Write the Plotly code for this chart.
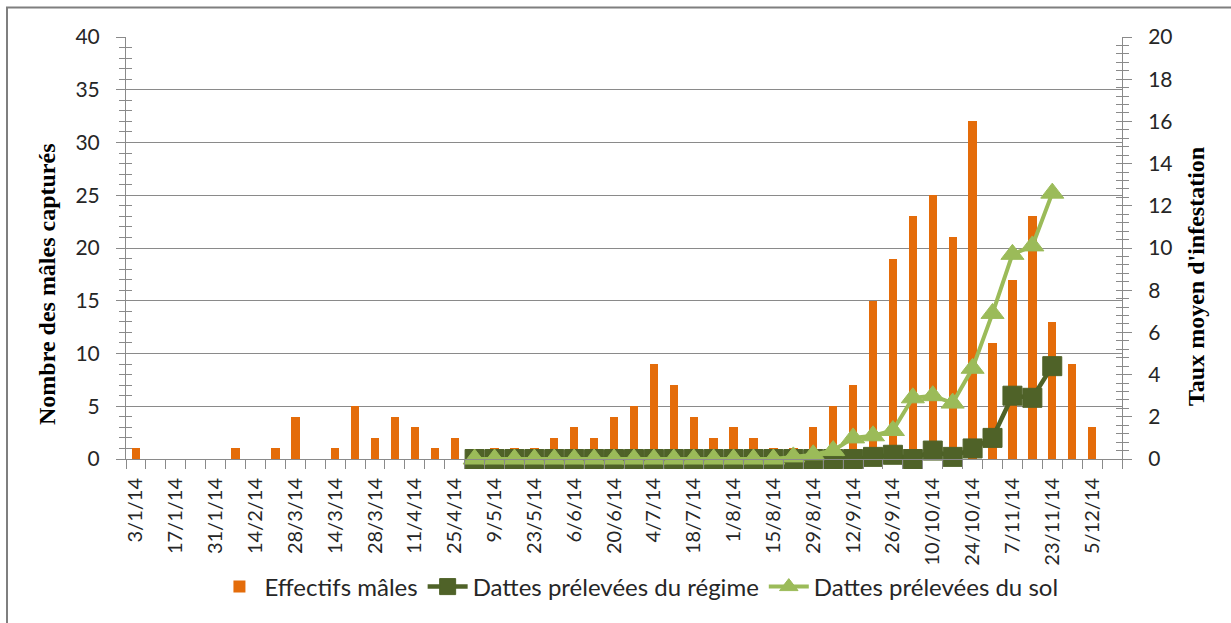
import plotly.graph_objects as go

# Weekly trap dates (x-axis categories)
dates = [
    "3/1/14", "10/1/14", "17/1/14", "24/1/14", "31/1/14", "7/2/14", "14/2/14", "21/2/14",
    "28/3/14", "7/3/14", "14/3/14", "21/3/14", "28/3/14", "4/4/14", "11/4/14", "18/4/14",
    "25/4/14", "2/5/14", "9/5/14", "16/5/14", "23/5/14", "30/5/14", "6/6/14", "13/6/14",
    "20/6/14", "27/6/14", "4/7/14", "11/7/14", "18/7/14", "25/7/14", "1/8/14", "8/8/14",
    "15/8/14", "22/8/14", "29/8/14", "5/9/14", "12/9/14", "19/9/14", "26/9/14", "3/10/14",
    "10/10/14", "17/10/14", "24/10/14", "31/10/14", "7/11/14", "15/11/14", "23/11/14",
    "28/11/14", "5/12/14", "12/12/14",
]

# Number of males captured per week (left axis)
effectifs_males = [
    1, 0, 0, 0, 0, 1, 0, 1, 4, 0, 1, 5, 2, 4, 3, 1, 2, 0, 1, 1, 1, 2, 3, 2, 4,
    5, 9, 7, 4, 2, 3, 2, 1, 1, 3, 5, 7, 15, 19, 23, 25, 21, 32, 11, 17, 23, 13, 9, 3, 0,
]

# Mean infestation rate (right axis), sampled from 2/5/14 to 23/11/14
N_BEFORE = 17
N_AFTER = 3
regime = [None] * N_BEFORE + [
    0, 0, 0, 0, 0, 0, 0, 0, 0, 0, 0, 0, 0, 0, 0, 0, 0, 0, 0, 0,
    0.1, 0.2, 0.0, 0.4, 0.1, 0.5, 1.0, 3.0, 2.9, 4.4,
] + [None] * N_AFTER
sol = [None] * N_BEFORE + [
    0, 0, 0, 0, 0, 0, 0, 0, 0, 0, 0, 0, 0, 0, 0, 0,
    0.1, 0.2, 0.4, 1.0, 1.1, 1.35, 2.9, 3.0, 2.65, 4.3, 6.9, 9.7, 10.1, 12.6,
] + [None] * N_AFTER

x_idx = list(range(len(dates)))

GRAY = "#8a8a8a"
TXT = "#262626"
FONT = "Lato"
W, H = 1231, 623
ML, MR, MT, MB = 126, 109, 37, 164
PW, PH = W - ML - MR, H - MT - MB


def px_x(p):
    return (p - ML) / PW


def px_y(p):
    return (H - MB - p) / PH


fig = go.Figure()

fig.add_trace(go.Bar(
    x=x_idx, y=effectifs_males, name="Effectifs mâles",
    marker=dict(color="#E46C0A", line=dict(width=0)), width=0.42,
    yaxis="y",
))
fig.add_trace(go.Scatter(
    x=x_idx, y=regime, name="Dattes prélevées du régime", yaxis="y2",
    mode="lines+markers", line=dict(color="#4F6228", width=4.5),
    marker=dict(symbol="square", size=19, color="#4F6228",
                line=dict(color="#4F6228", width=1)),
    cliponaxis=False,
))
fig.add_trace(go.Scatter(
    x=x_idx, y=sol, name="Dattes prélevées du sol", yaxis="y2",
    mode="lines+markers", line=dict(color="#9BBB59", width=4),
    marker=dict(symbol="triangle-up", size=20, color="#9BBB59",
                line=dict(color="#9BBB59", width=1)),
    cliponaxis=False,
))
# invisible helpers so the inner (crossing) minor tick axes get drawn
fig.add_trace(go.Scatter(x=[0], y=[0], yaxis="y3", mode="markers",
                         marker=dict(opacity=0), showlegend=False, hoverinfo="skip"))
fig.add_trace(go.Scatter(x=[0], y=[0], yaxis="y4", mode="markers",
                         marker=dict(opacity=0), showlegend=False, hoverinfo="skip"))

tick_font = dict(family=FONT, size=21, color=TXT)

fig.update_layout(
    width=W, height=H, autosize=False,
    margin=dict(l=ML, r=MR, t=MT, b=MB),
    paper_bgcolor="white", plot_bgcolor="white",
    bargap=0.0,
    showlegend=True,
    legend=dict(
        orientation="h", x=0.515, xanchor="center", y=px_y(587), yanchor="middle",
        font=dict(family=FONT, size=24, color=TXT), itemwidth=40,
        traceorder="normal",
    ),
    xaxis=dict(
        range=[-0.5, len(dates) - 0.5],
        tickmode="array", tickvals=x_idx[::2], ticktext=dates[::2],
        tickangle=-90, tickfont=dict(family=FONT, size=20, color=TXT),
        ticks="outside", ticklen=9, tickcolor="rgba(0,0,0,0)",
        ticklabelstandoff=1,
        minor=dict(ticks="outside", tick0=-0.5, dtick=1, ticklen=9,
                   tickcolor=GRAY, tickwidth=1, showgrid=False),
        showgrid=False, zeroline=False,
        showline=True, linecolor=GRAY, linewidth=1,
    ),
    yaxis=dict(
        range=[0, 40], dtick=5, tickfont=tick_font,
        ticks="outside", ticklen=9, tickcolor=GRAY,
        ticklabelstandoff=12,
        minor=dict(ticks="outside", dtick=1, ticklen=6, tickcolor=GRAY, showgrid=False),
        showgrid=True, gridcolor=GRAY, gridwidth=1, zeroline=False,
        showline=True, linecolor=GRAY, linewidth=1,
    ),
    yaxis2=dict(
        range=[0, 20], dtick=2, tickfont=tick_font,
        overlaying="y", side="right",
        ticks="outside", ticklen=9, tickcolor=GRAY,
        ticklabelstandoff=12,
        minor=dict(ticks="outside", dtick=0.4, ticklen=6, tickcolor=GRAY, showgrid=False),
        showgrid=False, zeroline=False,
        showline=True, linecolor=GRAY, linewidth=1,
    ),
    yaxis3=dict(
        range=[0, 40], overlaying="y", side="left", showticklabels=False,
        ticks="inside", ticklen=6, tickcolor=GRAY, dtick=1,
        showgrid=False, zeroline=False, showline=False,
    ),
    yaxis4=dict(
        range=[0, 20], overlaying="y", side="right", showticklabels=False,
        ticks="inside", ticklen=6, tickcolor=GRAY, dtick=0.4,
        showgrid=False, zeroline=False, showline=False,
    ),
    annotations=[
        dict(text="<b>Nombre des mâles capturés</b>", textangle=-90,
             xref="paper", yref="paper", x=px_x(47), y=px_y(284),
             xanchor="center", yanchor="middle", showarrow=False,
             font=dict(family="Liberation Serif", size=24, color="black")),
        dict(text="<b>Taux moyen d'infestation</b>", textangle=-90,
             xref="paper", yref="paper", x=px_x(1196), y=px_y(277),
             xanchor="center", yanchor="middle", showarrow=False,
             font=dict(family="Liberation Serif", size=24, color="black")),
    ],
    shapes=[
        dict(type="rect", xref="paper", yref="paper",
             x0=px_x(7), x1=px_x(1260), y0=px_y(660), y1=px_y(7.5),
             line=dict(color="#7f7f7f", width=2), fillcolor="rgba(0,0,0,0)",
             layer="below"),
    ],
)

fig.write_html("out.html")
